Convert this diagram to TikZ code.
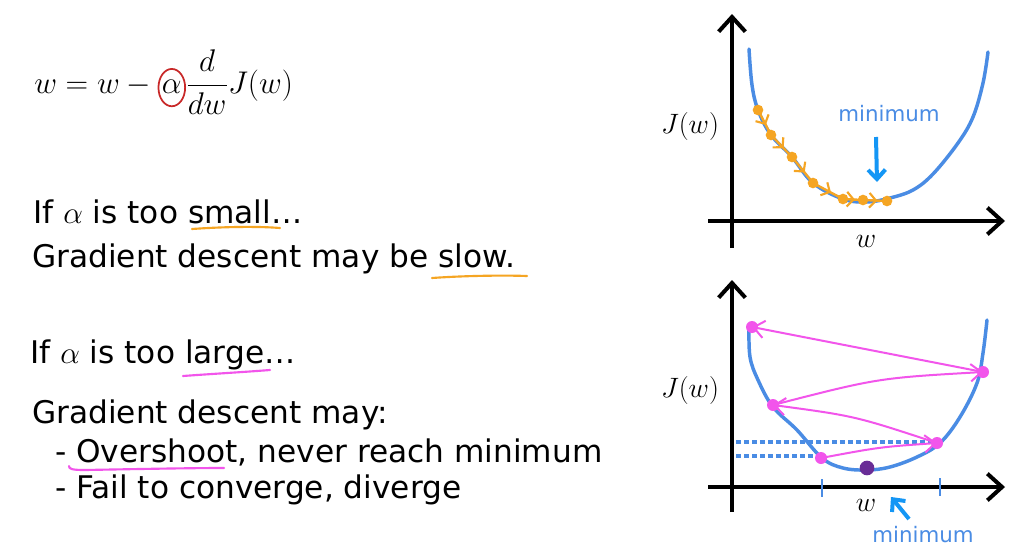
\RequirePackage{fix-cm}
\documentclass[tikz,border=0pt]{standalone}
\usepackage{fontspec}
\setmainfont{DejaVu Sans}
\usetikzlibrary{arrows.meta,decorations.markings}
\definecolor{curveblue}{RGB}{74,140,228}
\definecolor{arrowblue}{RGB}{20,150,245}
\definecolor{mag}{RGB}{242,85,235}
\definecolor{orng}{RGB}{245,165,35}
\definecolor{purp}{RGB}{105,45,150}
\definecolor{circred}{RGB}{200,40,40}
\begin{document}
\begin{tikzpicture}[x=0.75pt,y=-0.75pt,
  txt/.style={anchor=base west,inner sep=0pt,font=\fontsize{23.4}{27}\selectfont},
  eqn/.style={anchor=base west,inner sep=0pt,font=\fontsize{23.5}{28}\selectfont},
  mathlbl/.style={inner sep=0pt,font=\fontsize{21}{25}\selectfont},
  minlbl/.style={inner sep=0pt,text=curveblue,font=\fontsize{16}{19}\selectfont},
  axis/.style={line width=3pt,-{Straight Barb[length=11pt,width=20pt,line width=3pt]}},
  curve/.style={curveblue,line width=2.6pt,line cap=round,line join=round},
  dotline/.style={curveblue,line width=2.8pt,dash pattern=on 3.5pt off 2.5pt},
  tick/.style={curveblue,line width=2.2pt},
  jump/.style={mag,line width=1.5pt,-{Straight Barb[length=8pt,width=13pt,line width=1.5pt]}},
  ostep/.style={orng,line width=1.8pt,postaction={decorate},decoration={markings,mark=at position 0.6 with {\arrow{Straight Barb[length=5pt,width=11pt,line width=1.6pt]}}}},
  odot/.style={fill=orng,circle,inner sep=0pt,minimum size=8pt},
  pdot/.style={fill=mag,circle,inner sep=0pt,minimum size=9pt},
  minarrow/.style={arrowblue,line width=3pt,-{Straight Barb[length=7pt,width=13pt,line width=3pt]}},
  uline/.style={line width=1.6pt,line cap=round}
]
\useasboundingbox (0,0) rectangle (1020,550);
\fill[white] (0,0) rectangle (1020,550);

% ---------- equation ----------
\node[eqn] (eqa) at (34,93) {$w = w -{}$};
\node[eqn] (alpha) at ([xshift=2.5pt]eqa.base east) {$\alpha$};
\node[eqn] (eqb) at ([xshift=3pt]alpha.base east) {$\displaystyle\frac{d}{dw}J(w)$};
\draw[circred,line width=1.3pt] ([yshift=-1pt]alpha.center) ellipse [x radius=10pt, y radius=14pt];

% ---------- text ----------
\node[txt] (t1) at (33,223) {If $\alpha$ is too small…};
\node[txt] (t2) at (32,267) {Gradient descent may be slow.};
\node[txt] (t3) at (30,363) {If $\alpha$ is too large…};
\node[txt] (t4) at (32,423) {Gradient descent may:};
\node[txt] (t5) at (55,462) {- Overshoot, never reach minimum};
\node[txt] (t6) at (55,498) {- Fail to converge, diverge};

% underlines
\draw[uline,orng] (192,229) .. controls (220,227) and (255,226) .. (280,228);
\draw[uline,orng] (432,278) .. controls (460,276) and (500,275) .. (527,276);
\draw[uline,mag] (183,376) .. controls (210,374) and (245,372) .. (270,370);
\draw[uline,mag] (69,466) .. controls (69,469) and (72,470) .. (85,470) .. controls (140,469) and (190,468) .. (224,468);

% ---------- top graph ----------
\coordinate (ty0) at (732,248);
\coordinate (ty1) at (732,14);
\coordinate (tx0) at (708,221);
\coordinate (tx1) at (1005,221);
\draw[axis] (ty0) -- (ty1);
\draw[axis] (tx0) -- (tx1);
\node[mathlbl] (tJ) at (690,126) {$J(w)$};
\node[mathlbl] (tw) at (866,241) {$w$};

\draw[curve] plot[smooth,tension=0.6] coordinates {(749,49) (752,85) (758,110) (771,135) (792,157) (813,183) (843,199) (867,202) (890,198) (913,190) (933,174) (958,143) (973,117) (983,83) (988,52)};

\coordinate (d1) at (758,110);
\coordinate (d2) at (771,135);
\coordinate (d3) at (792,157);
\coordinate (d4) at (813,183);
\coordinate (d5) at (843,199);
\coordinate (d6) at (863,200);
\coordinate (d7) at (887,201);
\draw[ostep] (d1) -- (d2);
\draw[ostep] (d2) -- (d3);
\draw[ostep] (d3) -- (d4);
\draw[ostep] (d4) -- (d5);
\draw[ostep] (d5) -- (d6);
\draw[ostep] (d6) -- (d7);
\foreach \p in {d1,d2,d3,d4,d5,d6,d7} \node[odot] at (\p) {};

\node[minlbl] (tmin) at (889,114) {minimum};
\coordinate (ta0) at (876,137);
\coordinate (ta1) at (877,182);
\draw[minarrow] (ta0) -- (ta1);

% ---------- bottom graph ----------
\coordinate (by0) at (732,512);
\coordinate (by1) at (732,280);
\coordinate (bx0) at (708,487);
\coordinate (bx1) at (1005,487);
\draw[axis] (by0) -- (by1);
\draw[axis] (bx0) -- (bx1);
\node[mathlbl] (bJ) at (690,390) {$J(w)$};
\node[mathlbl] (bw) at (866,505) {$w$};

\coordinate (dl1a) at (736,442);
\coordinate (dl1b) at (935,442);
\coordinate (dl2a) at (736,456);
\coordinate (dl2b) at (820,456);
\draw[dotline] (dl1a) -- (dl1b);
\draw[dotline] (dl2a) -- (dl2b);

\draw[curve] plot[smooth,tension=0.6] coordinates {(749,327) (750,357) (758,380) (773,407) (797,430) (822,458) (843,468) (867,470) (890,467) (917,457) (940,443) (960,417) (977,383) (983,353) (987,320)};

\coordinate (k1a) at (822,479);
\coordinate (k1b) at (822,497);
\coordinate (k2a) at (940,478);
\coordinate (k2b) at (940,496);
\draw[tick] (k1a) -- (k1b);
\draw[tick] (k2a) -- (k2b);

\coordinate (P1) at (752,327);
\coordinate (P2) at (983,372);
\coordinate (P3) at (773,405);
\coordinate (P4) at (937,443);
\coordinate (P5) at (821,458);
\draw[jump] (P5) .. controls (880,447) .. (P4);
\draw[jump] (P4) .. controls (855,416) .. (P3);
\draw[jump] (P3) .. controls (878,378) .. (P2);
\draw[jump] (P2) -- (P1);
\foreach \p in {P1,P2,P3,P4,P5} \node[pdot] at (\p) {};
\node[fill=purp,circle,inner sep=0pt,minimum size=11pt] (pmin) at (867,468) {};

\node[minlbl] (bmin) at (923,535) {minimum};
\coordinate (ba0) at (909,519);
\coordinate (ba1) at (891,497);
\draw[minarrow] (ba0) -- (ba1);
\end{tikzpicture}
\end{document}
